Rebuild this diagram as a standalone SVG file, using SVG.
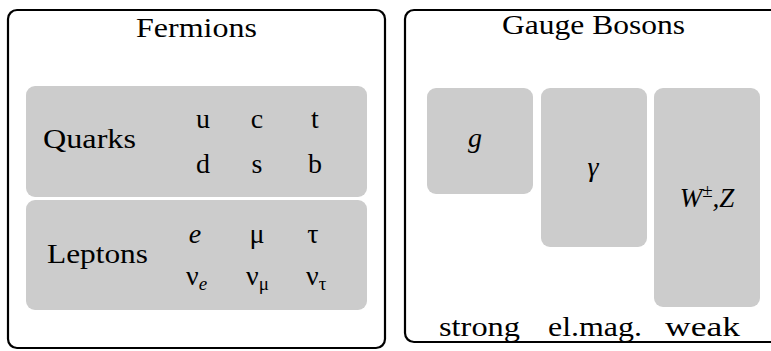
<svg xmlns="http://www.w3.org/2000/svg" width="771" height="351" viewBox="0 0 771 351">
<style>
.frame{fill:#fff;stroke:#000;stroke-width:2.2}
.cell{fill:#cccccc}
text{font-family:"Liberation Serif","DejaVu Serif",serif;font-size:27px;fill:#000}
.t{font-size:28px}
.m{text-anchor:middle}
.i{font-style:italic}
.sym{font-size:28px}
.sub{font-size:19px}
</style>
<g id="fermions">
<rect class="frame" x="8" y="10" width="377" height="338" rx="9"/>
<text class="t" x="136" y="37" textLength="121" lengthAdjust="spacingAndGlyphs">Fermions</text>
</g>
<g id="quarks">
<rect class="cell" x="26" y="86" width="341" height="111" rx="9"/>
<text x="43" y="148" textLength="93" lengthAdjust="spacingAndGlyphs">Quarks</text>
<text class="m sym" x="203" y="128">u</text>
<text class="m sym" x="257" y="128">c</text>
<text class="m sym" x="315" y="128">t</text>
<text class="m sym" x="203" y="173">d</text>
<text class="m sym" x="257" y="173">s</text>
<text class="m sym" x="315" y="173">b</text>
</g>
<g id="leptons">
<rect class="cell" x="26" y="200" width="341" height="110" rx="9"/>
<text x="47" y="263" textLength="101" lengthAdjust="spacingAndGlyphs">Leptons</text>
<text class="m sym i" x="195" y="243">e</text>
<text class="m sym" x="257" y="243">μ</text>
<text class="m sym" x="313" y="243">τ</text>
<text class="sym" x="186" y="285">ν<tspan class="sub i" dy="5">e</tspan></text>
<text class="sym" x="246" y="285">ν<tspan class="sub" dy="5">μ</tspan></text>
<text class="sym" x="306" y="285">ν<tspan class="sub" dy="5">τ</tspan></text>
</g>
<g id="gauge-bosons">
<rect class="frame" x="405" y="10" width="380" height="332" rx="9"/>
<text class="t" x="502" y="34" textLength="183" lengthAdjust="spacingAndGlyphs">Gauge Bosons</text>
</g>
<g id="strong">
<rect class="cell" x="427" y="88" width="106" height="106" rx="9"/>
<text class="m sym i" x="475" y="147">g</text>
<text x="439" y="336" textLength="81" lengthAdjust="spacingAndGlyphs">strong</text>
</g>
<g id="elmag">
<rect class="cell" x="541" y="88" width="106" height="159" rx="9"/>
<text class="m sym i" x="593" y="176" font-size="30">γ</text>
<text x="548" y="336" textLength="94" lengthAdjust="spacingAndGlyphs">el.mag.</text>
</g>
<g id="weak">
<rect class="cell" x="654" y="88" width="106" height="219" rx="9"/>
<text class="m i" x="707" y="207" font-size="30">W<tspan class="sub" font-style="normal" dy="-10">±</tspan><tspan dy="10">,Z</tspan></text>
<text x="665" y="336" textLength="75" lengthAdjust="spacingAndGlyphs">weak</text>
</g>
<g id="connectors"></g>
</svg>
